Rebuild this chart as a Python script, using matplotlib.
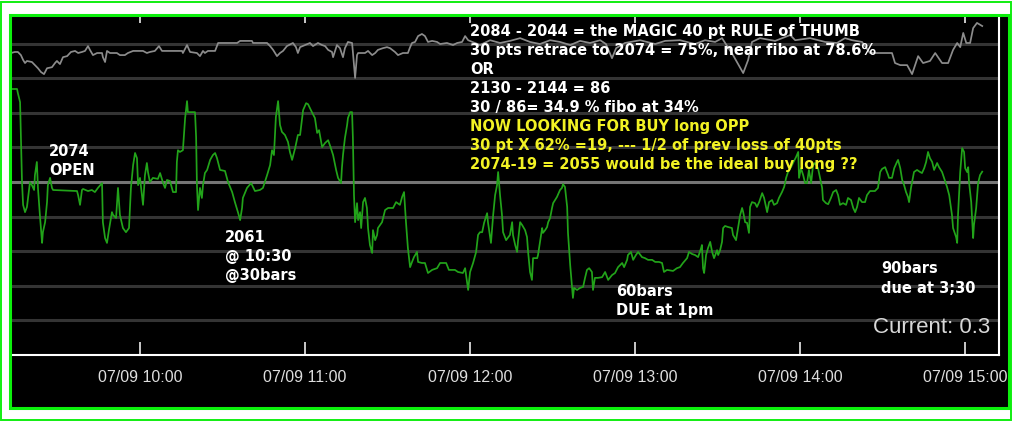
import matplotlib
matplotlib.use("Agg")
import matplotlib.pyplot as plt
from matplotlib.patches import Rectangle

# time is minutes after 09:00, values in grid steps (0 = bright middle line)
green_t = [13.1, 15.3, 15.6, 16.4, 17.1, 17.5, 18.2, 18.9, 19.3, 20.0,
           20.7, 21.5, 21.8, 22.5, 22.9, 23.6, 24.4, 24.7, 25.5, 26.2,
           26.5, 27.3, 28.0, 28.4, 37.1, 37.5, 38.2, 38.9, 39.3, 41.1,
           42.5, 43.6, 44.7, 46.2, 46.5, 47.3, 48.0, 48.7, 49.8, 50.2,
           51.3, 52.0, 52.7, 53.8, 54.9, 56.0, 56.7, 57.5, 58.2, 58.9,
           59.3, 60.0, 60.7, 61.1, 61.8, 62.5, 62.9, 63.6, 64.7, 66.5,
           67.3, 68.4, 69.1, 69.8, 70.9, 72.0, 73.1, 73.4, 73.8, 74.5,
           75.6, 76.4, 77.1, 77.4, 80.0, 80.4, 80.7, 81.1, 81.8, 82.5,
           82.9, 83.6, 84.4, 85.5, 86.5, 87.3, 88.0, 89.1, 90.9, 92.0,
           93.5, 94.5, 95.6, 96.4, 97.1, 97.4, 98.9, 100.4, 101.8, 103.6,
           104.7, 106.2, 107.3, 108.0, 108.7, 109.4, 110.2, 110.9, 111.6, 112.7,
           113.8, 114.5, 115.3, 116.4, 117.4, 118.2, 119.3, 120.4, 121.1, 122.5,
           123.6, 124.4, 125.1, 126.2, 127.3, 128.4, 129.4, 130.2, 131.3, 132.0,
           133.1, 133.4, 133.8, 134.5, 135.3, 135.6, 136.4, 137.1, 137.4, 137.8,
           138.2, 138.9, 139.3, 140.0, 140.4, 141.1, 141.8, 142.5, 142.9, 143.6,
           144.4, 144.7, 145.5, 146.2, 146.5, 148.0, 149.1, 150.2, 152.0, 153.1,
           154.5, 155.3, 156.0, 156.7, 157.4, 158.2, 158.9, 159.6, 160.7, 161.1,
           162.5, 163.6, 164.7, 166.2, 168.0, 169.1, 171.3, 172.3, 174.5, 175.6,
           177.4, 178.2, 178.9, 179.3, 180.0, 181.1, 182.2, 182.9, 183.6, 184.4,
           185.1, 186.2, 186.5, 187.6, 188.4, 189.1, 189.8, 190.2, 190.9, 191.6,
           192.0, 193.1, 194.5, 195.3, 195.6, 196.4, 197.1, 197.4, 198.2, 198.9,
           200.0, 200.7, 201.1, 201.8, 202.5, 202.9, 204.4, 204.7, 206.2, 206.5,
           207.3, 208.0, 208.4, 209.1, 209.8, 210.2, 210.9, 211.6, 212.7, 213.4,
           213.8, 214.5, 215.3, 215.6, 216.4, 217.1, 217.4, 217.8, 218.9, 220.0,
           221.1, 221.8, 222.5, 223.3, 224.3, 224.7, 225.4, 226.5, 228.0, 229.1,
           230.2, 231.6, 232.7, 233.8, 235.3, 236.0, 237.1, 237.4, 238.5, 239.3,
           240.3, 241.1, 242.5, 243.6, 244.7, 246.2, 247.3, 248.7, 249.8, 250.5,
           251.6, 253.8, 255.2, 256.3, 257.4, 258.9, 259.6, 260.7, 261.8, 262.9,
           264.0, 264.3, 264.7, 265.1, 265.8, 266.5, 267.3, 268.0, 268.7, 269.8,
           270.2, 270.9, 271.6, 272.0, 272.7, 273.8, 275.2, 275.6, 276.7, 277.4,
           278.2, 278.9, 279.3, 280.0, 280.7, 281.4, 281.8, 282.5, 283.6, 284.3,
           285.1, 286.2, 286.9, 287.6, 288.0, 288.7, 289.8, 290.5, 291.6, 292.3,
           293.4, 294.2, 294.9, 295.6, 296.7, 297.4, 298.5, 299.3, 299.6, 300.3,
           301.1, 301.8, 302.5, 303.2, 304.0, 304.7, 305.4, 306.5, 307.2, 308.0,
           308.3, 309.4, 310.2, 311.2, 312.0, 313.1, 313.8, 314.5, 315.6, 316.7,
           317.4, 318.5, 319.3, 320.0, 320.7, 321.4, 322.5, 323.6, 324.3, 325.4,
           327.2, 328.3, 329.1, 329.8, 330.9, 332.0, 332.3, 333.4, 334.2, 335.2,
           335.6, 336.4, 337.1, 337.8, 338.5, 339.2, 339.6, 340.3, 340.7, 341.4,
           342.5, 343.6, 344.3, 345.1, 345.8, 346.5, 347.2, 348.0, 348.7, 349.8,
           350.5, 351.6, 352.3, 353.4, 354.2, 355.2, 355.6, 356.7, 357.1, 357.4,
           358.2, 358.5, 358.9, 359.6, 360.0, 360.7, 361.1, 361.4, 362.2, 362.5,
           362.9, 363.2, 364.0, 364.7, 365.4, 366.2]
green_v = [2.69, 2.69, 2.57, 2.31, 0.00, -0.66, -0.87, -0.72, -0.46, 0.00,
           -0.09, -0.23, 0.20, 0.58, -0.17, -0.95, -1.76, -1.45, -1.16, -0.58,
           -0.09, 0.12, -0.17, -0.23, -0.26, -0.38, -0.66, -0.23, -0.20, -0.26,
           -0.23, -0.29, -0.17, -0.03, -1.16, -1.62, -1.76, -1.39, -0.87, -0.95,
           -1.04, -0.17, -0.95, -1.33, -1.45, -1.33, -0.17, 0.49, 0.84, 0.69,
           -0.09, 0.12, -0.38, -0.66, 0.20, 0.55, 0.29, 0.00, 0.12, 0.09,
           0.26, -0.03, -0.17, 0.06, 0.03, -0.29, -0.29, 0.58, 0.92, 0.87,
           0.92, 1.85, 2.34, 2.02, 2.02, 1.30, -0.09, -0.81, -0.17, -0.46,
           -0.09, 0.26, 0.35, 0.64, 0.78, 0.84, 0.69, 0.35, 0.32, 0.00,
           -0.29, -0.58, -0.87, -1.10, -0.75, -0.46, -0.17, -0.03, -0.26, -0.23,
           -0.17, 0.20, 0.49, 0.92, 0.78, 1.88, 2.34, 1.65, 1.45, 1.36,
           1.16, 0.87, 0.64, 0.98, 1.36, 1.36, 2.08, 2.28, 2.25, 2.02,
           1.85, 1.42, 1.50, 1.01, 1.13, 1.21, 0.98, 0.78, 0.35, 0.12,
           -0.03, 0.40, 0.78, 1.27, 1.65, 1.85, 2.02, 2.02, 1.27, -0.38,
           -1.16, -0.61, -1.10, -0.87, -1.33, -0.58, -0.46, -0.75, -1.33, -1.82,
           -2.05, -1.39, -1.68, -1.53, -1.33, -1.16, -0.81, -0.75, -0.75, -0.58,
           -0.66, -0.43, -0.29, -1.16, -1.91, -2.46, -2.31, -2.17, -2.02, -2.31,
           -2.34, -2.34, -2.63, -2.54, -2.49, -2.34, -2.34, -2.54, -2.54, -2.60,
           -2.63, -2.49, -2.89, -3.12, -2.60, -2.34, -2.02, -1.53, -1.45, -1.45,
           -1.18, -0.90, -1.16, -1.76, -0.95, -0.38, -0.09, 0.29, -0.38, -0.95,
           -1.45, -1.68, -1.53, -1.16, -1.53, -1.82, -2.02, -1.73, -1.16, -1.24,
           -1.39, -1.59, -2.02, -2.60, -2.83, -2.20, -2.20, -2.11, -1.33, -1.47,
           -1.39, -1.30, -1.16, -1.04, -0.75, -0.61, -0.52, -0.43, -0.23, -0.17,
           -0.06, -0.14, -0.72, -1.47, -2.40, -3.06, -3.35, -3.06, -3.12, -3.06,
           -3.03, -2.77, -2.54, -2.49, -2.60, -3.12, -2.77, -2.77, -2.75, -2.60,
           -2.83, -2.69, -2.63, -2.46, -2.34, -2.46, -2.25, -2.11, -2.02, -2.25,
           -2.11, -2.02, -2.17, -2.20, -2.25, -2.25, -2.31, -2.31, -2.34, -2.60,
           -2.54, -2.57, -2.49, -2.46, -2.34, -2.20, -2.02, -2.08, -2.11, -2.17,
           -1.91, -1.82, -2.49, -2.63, -2.11, -1.91, -1.73, -2.02, -2.20, -1.97,
           -2.11, -1.97, -1.73, -1.33, -1.27, -1.30, -1.33, -1.53, -1.68, -1.33,
           -0.95, -0.75, -0.87, -1.16, -1.18, -1.47, -0.72, -0.58, -0.61, -0.72,
           -0.58, -0.32, -0.46, -0.72, -0.87, -0.58, -0.52, -0.66, -0.61, -0.46,
           -0.29, -0.14, 0.12, 0.29, 0.43, 0.55, 0.72, 0.87, 0.12, 0.40,
           0.20, -0.03, -0.03, 0.35, -0.03, 0.49, 0.55, 0.40, 0.14, -0.17,
           -0.52, -0.61, -0.64, -0.46, -0.29, -0.23, -0.38, -0.66, -0.61, -0.66,
           -0.46, -0.52, -0.75, -0.87, -0.72, -0.46, -0.58, -0.58, -0.38, -0.26,
           -0.26, -0.17, 0.29, 0.38, 0.43, 0.20, 0.12, 0.12, 0.40, 0.58,
           0.64, 0.40, 0.06, -0.09, -0.29, -0.43, -0.58, -0.17, 0.00, 0.29,
           0.35, 0.29, 0.26, 0.40, 0.58, 0.87, 0.69, 0.58, 0.35, 0.55,
           0.43, 0.29, 0.12, -0.14, -0.38, -0.95, -1.33, -1.59, -1.76, -0.95,
           0.29, 0.58, 0.98, 0.87, 0.40, 0.29, 0.43, 0.00, -0.58, -1.01,
           -1.62, -1.24, -0.75, -0.03, 0.20, 0.30]

gray_t = [13.1, 14.5, 15.6, 16.7, 17.5, 18.2, 18.9, 20.7, 21.8, 22.9,
          24.0, 25.1, 26.2, 28.0, 29.1, 29.8, 30.9, 32.0, 33.5, 34.9,
          36.4, 37.5, 38.9, 40.0, 41.1, 41.8, 42.9, 44.4, 46.2, 46.5,
          47.3, 48.0, 49.1, 51.6, 52.7, 54.5, 55.6, 57.5, 61.1, 62.5,
          63.6, 65.4, 66.9, 68.0, 75.3, 75.6, 77.1, 78.2, 80.7, 81.8,
          82.9, 83.6, 84.7, 87.3, 88.4, 95.3, 96.4, 100.7, 101.1, 106.2,
          107.3, 108.4, 109.8, 110.9, 112.0, 113.4, 115.6, 116.7, 117.4, 118.2,
          120.0, 121.8, 122.9, 124.7, 126.2, 127.3, 128.4, 129.8, 130.2, 131.6,
          132.7, 133.8, 134.5, 135.6, 137.1, 137.4, 138.2, 138.9, 139.3, 141.8,
          142.9, 144.4, 145.5, 146.5, 148.3, 149.8, 150.9, 152.7, 153.8, 155.6,
          157.4, 158.2, 158.9, 160.0, 161.1, 162.5, 163.6, 164.7, 166.2, 168.0,
          169.1, 171.6, 173.8, 175.3, 177.1, 178.2, 179.3, 183.6, 187.3, 190.9,
          194.5, 198.2, 201.8, 205.4, 209.1, 212.7, 216.4, 220.0, 223.6, 227.3,
          229.4, 231.6, 233.1, 236.3, 241.8, 247.3, 250.9, 256.3, 261.8, 265.4,
          269.1, 271.6, 275.6, 279.3, 281.1, 282.5, 285.4, 290.9, 296.4, 298.2,
          303.6, 309.1, 313.4, 316.3, 318.9, 322.5, 325.4, 333.4, 334.5, 336.4,
          338.9, 340.7, 342.9, 344.7, 347.2, 349.1, 351.6, 353.8, 355.6, 357.1,
          358.2, 359.3, 360.4, 361.8, 362.9, 364.3, 366.2]
gray_v = [3.73, 3.76, 3.76, 3.67, 3.53, 3.44, 3.50, 3.47, 3.38, 3.29,
          3.18, 3.12, 3.29, 3.32, 3.44, 3.50, 3.41, 3.61, 3.64, 3.76,
          3.79, 3.73, 3.76, 3.79, 3.93, 3.82, 3.67, 3.73, 3.73, 3.61,
          3.47, 3.79, 3.73, 3.73, 3.67, 3.67, 3.73, 3.79, 3.79, 3.73,
          3.76, 3.79, 3.93, 3.79, 3.79, 3.73, 3.96, 3.76, 3.73, 3.64,
          3.79, 3.73, 3.79, 3.79, 4.02, 4.02, 4.08, 4.08, 4.02, 4.02,
          3.93, 3.82, 3.64, 3.73, 3.79, 3.93, 4.02, 3.90, 3.73, 3.90,
          3.96, 4.02, 3.93, 4.02, 3.96, 3.93, 3.82, 3.76, 3.61, 3.96,
          3.87, 3.61, 3.87, 4.05, 4.02, 3.76, 3.01, 3.67, 3.73, 3.73,
          3.79, 3.67, 3.73, 3.82, 3.87, 3.90, 3.87, 3.76, 3.67, 3.73,
          3.73, 3.90, 4.02, 4.05, 4.22, 4.28, 4.22, 4.05, 4.08, 4.05,
          3.99, 4.02, 3.96, 4.02, 4.05, 4.22, 4.10, 3.96, 4.10, 4.02,
          4.08, 4.16, 4.05, 3.99, 4.10, 4.05, 3.96, 4.08, 4.02, 4.10,
          3.99, 3.58, 3.87, 4.02, 4.10, 3.99, 4.08, 4.10, 3.99, 4.10,
          4.05, 4.16, 3.67, 3.15, 3.53, 4.05, 4.16, 4.08, 4.25, 4.10,
          4.16, 4.05, 4.02, 4.16, 4.10, 4.05, 3.73, 3.73, 3.44, 3.38,
          3.38, 3.12, 3.64, 3.44, 3.50, 3.73, 3.44, 3.44, 3.82, 4.02,
          3.90, 4.31, 4.02, 4.02, 4.45, 4.60, 4.51]

tick_hours = [10, 11, 12, 13, 14, 15]
tick_labels = ["07/09 %d:00" % h for h in tick_hours]
grid_levels = [-4, -3, -2, -1, 1, 2, 3, 4]
current_value = 0.3

white_lines = ["2084 - 2044 = the MAGIC 40 pt RULE of THUMB",
               "30 pts retrace to 2074 = 75%, near fibo at 78.6%",
               "OR",
               "2130 - 2144 = 86",
               "30 / 86= 34.9 % fibo at 34%"]
yellow_lines = ["NOW LOOKING FOR BUY long OPP",
                "30 pt X 62% =19, --- 1/2 of prev loss of 40pts",
                "2074-19 = 2055 would be the ideal buy long ??"]

W, H = 1013, 421
fig = plt.figure(figsize=(W / 100, H / 100), dpi=100, facecolor="white")

# outer thin green border and the black panel with its green frame
fig.patches.append(Rectangle((1 / W, 1.5 / H), 1010 / W, 418 / H, transform=fig.transFigure,
                             fill=False, edgecolor="#11ee11", linewidth=1.4, zorder=5))
fig.patches.append(Rectangle((10 / W, 1 - 408 / H), 999 / W, 393 / H, transform=fig.transFigure,
                             facecolor="black", edgecolor="none", zorder=-1))
fig.patches.append(Rectangle((10 / W, 1 - 408 / H), 999 / W, 393 / H, transform=fig.transFigure,
                             fill=False, edgecolor="#0cf00c", linewidth=2.2, zorder=5))

ax = fig.add_axes([11 / W, 1 - 355 / H, 988 / W, 339 / H])
ax.set_facecolor("black")

ax.set_yticks(grid_levels)
ax.grid(axis="y", color="#343434", linewidth=2.2)
ax.axhline(0, color="#757575", linewidth=2.2, zorder=1)

ax.plot(gray_t, gray_v, color="#8c8c8c", linewidth=1.25, zorder=2)
ax.plot(green_t, green_v, color="#22a31a", linewidth=1.25, zorder=3)

ax.set_xlim(13.1, 372.3)
ax.set_ylim(-5.0, 4.8)

narrow = ["Liberation Sans", "DejaVu Sans"]
xt = [(h - 9) * 60 for h in tick_hours]
ax.set_xticks(xt)
ax.set_xticklabels(tick_labels, family=narrow, fontsize=11.5, color="#dddddd")
ax.tick_params(axis="x", direction="in", length=9.5, width=1.1, color="white", pad=11)
ax.tick_params(axis="y", left=False, labelleft=False)
for side in ["top", "left"]:
    ax.spines[side].set_visible(False)
for side in ["bottom", "right"]:
    ax.spines[side].set_color("white")
    ax.spines[side].set_linewidth(1.5)

top = ax.secondary_xaxis("top")
top.set_xticks(xt)
top.tick_params(direction="in", length=5, width=1.1, color="white", labeltop=False)
top.spines["top"].set_visible(False)


def note(lines, t, v, color="white", step=19):
    # one text per line, fixed pixel spacing
    for i, s in enumerate(lines):
        ax.annotate(s, (t, v), xytext=(0, -i * step * 0.72), textcoords="offset points",
                    color=color, fontsize=10.5, fontweight="bold", va="baseline", ha="left",
                    zorder=6)


note(white_lines, 180.0, 4.23)
note(yellow_lines, 180.0, 4.23 - 5 * 19 / 34.6, color="#f2f224")
note(["2074", "OPEN"], 26.9, 0.74, step=18.5)
note(["2061", "@ 10:30", "@30bars"], 90.9, -1.73)
note(["60bars", "DUE at 1pm"], 233.1, -3.30)
note(["90bars", "due at 3;30"], 329.4, -2.64, step=20)

ax.text(369.1, -4.36, "Current: %.1f" % current_value, ha="right", va="baseline",
        family=narrow, fontsize=16, color="#d8d8d8")

fig.savefig("out.png", dpi=100, facecolor="white")
